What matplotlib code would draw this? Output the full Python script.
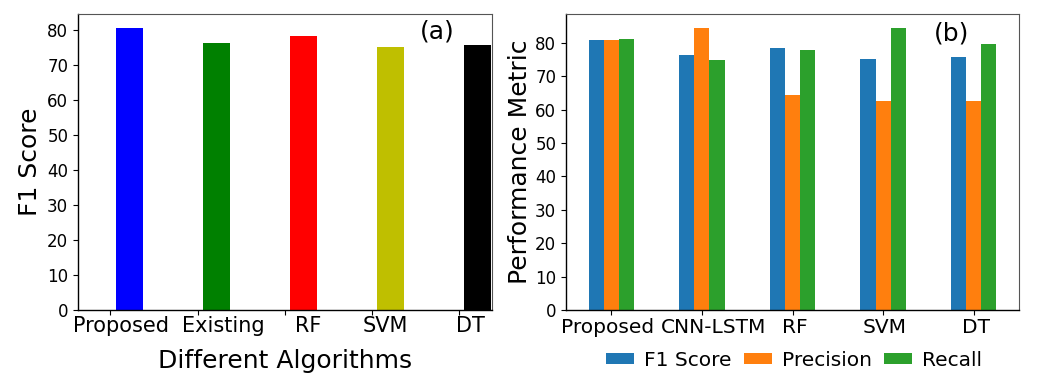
import numpy as np
import matplotlib
matplotlib.use('Agg')
import matplotlib.pyplot as plt

# panel (a) data
algos_a = ['Proposed', 'Existing', 'RF', 'SVM', 'DT']
f1_a = [80.6, 76.3, 78.3, 75.1, 75.7]
colors_a = ['b', 'g', 'r', 'y', 'k']

# panel (b) data
algos_b = ['Proposed', 'CNN-LSTM', 'RF', 'SVM', 'DT']
f1_b = [80.8, 76.3, 78.4, 75.1, 75.7]
precision_b = [80.8, 84.4, 64.4, 62.6, 62.6]
recall_b = [81.1, 74.8, 77.8, 84.4, 79.6]
metric_names = ['F1 Score', 'Precision', 'Recall']
metric_colors = ['#1f77b4', '#ff7f0e', '#2ca02c']

fig = plt.figure(figsize=(10.57, 3.74), dpi=100)
ax1 = fig.add_axes([0.0738, 0.171, 0.392, 0.791])
ax2 = fig.add_axes([0.5355, 0.171, 0.4286, 0.791])


def style_spines(ax):
    for s in ['left', 'bottom']:
        ax.spines[s].set_color('black')
        ax.spines[s].set_linewidth(1.0)
    for s in ['top', 'right']:
        ax.spines[s].set_color('#555555')
        ax.spines[s].set_linewidth(0.8)


# (a) single bars, shifted right of the tick marks
x = np.arange(len(algos_a))
bar_w = 0.31
ax1.bar(x + 0.06, f1_a, width=bar_w, color=colors_a, align='edge')
ax1.set_xticks(x)
ax1.set_xticklabels([])
# labels sit a bit right of the tick marks, like the original
ax1.set_xticks(x + np.array([0.126, 0.30, 0.264, 0.149, 0.126]), minor=True)
ax1.set_xticklabels(algos_a, minor=True, fontsize=15)
ax1.tick_params(axis='x', which='minor', length=0, pad=4.5)
ax1.set_xlim(-0.37, 4.38)
ax1.set_ylim(0, 84.6)
ax1.set_yticks(range(0, 81, 10))
ax1.tick_params(axis='y', labelsize=12)
ax1.set_ylabel('F1 Score', fontsize=18)
ax1.set_xlabel('Different Algorithms', fontsize=18, labelpad=9)
ax1.text(0.867, 0.94, '(a)', transform=ax1.transAxes, fontsize=18,
         ha='center', va='center')
style_spines(ax1)

# (b) grouped bars
xb = np.arange(len(algos_b))
w = 0.5 / 3
for i, (vals, name, c) in enumerate(zip([f1_b, precision_b, recall_b],
                                        metric_names, metric_colors)):
    ax2.bar(xb + (i - 1) * w, vals, width=w, color=c, label=name)
ax2.set_xticks(xb)
ax2.set_xticklabels([])
ax2.set_xticks(xb + np.array([-0.04, 0.13, 0.03, 0.02, 0.03]), minor=True)
ax2.set_xticklabels(algos_b, minor=True, fontsize=14.5)
ax2.tick_params(axis='x', which='minor', length=0, pad=5.5)
ax2.set_xlim(-0.5, 4.5)
ax2.set_ylim(0, 88.6)
ax2.set_yticks(range(0, 81, 10))
ax2.tick_params(axis='y', labelsize=12)
ax2.set_ylabel('Performance Metric', fontsize=18, labelpad=2)
ax2.text(0.85, 0.936, '(b)', transform=ax2.transAxes, fontsize=18,
         ha='center', va='center')
style_spines(ax2)
ax2.legend(loc='center', bbox_to_anchor=(0.503, -0.17), ncol=3, frameon=False,
           fontsize=14.5, handlelength=1.4, handleheight=0.5,
           handletextpad=0.5, columnspacing=0.6, borderpad=0)

plt.savefig('out.png', dpi=100)
